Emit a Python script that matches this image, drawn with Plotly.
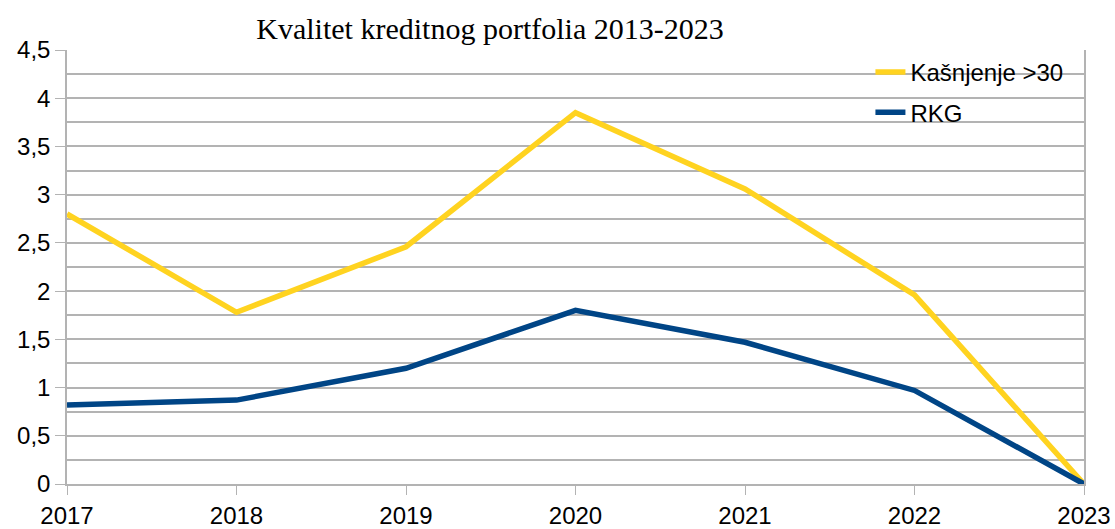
import plotly.graph_objects as go

years = [2017, 2018, 2019, 2020, 2021, 2022, 2023]
kasnjenje_30 = [2.80, 1.78, 2.46, 3.85, 3.06, 1.96, 0.0]
rkg = [0.82, 0.87, 1.20, 1.80, 1.47, 0.97, 0.0]

title_text = "Kvalitet kreditnog portfolia 2013-2023"
grid_color = "#b3b3b3"

fig = go.Figure()
fig.add_trace(go.Scatter(x=years, y=kasnjenje_30, mode="lines", name="Kašnjenje >30",
                         legendgroup="a", line=dict(color="#ffd320", width=5.5)))
fig.add_trace(go.Scatter(x=years, y=rkg, mode="lines", name="RKG",
                         legendgroup="b", line=dict(color="#004586", width=5.5)))

fig.update_layout(
    width=1115, height=529,
    margin=dict(l=67, r=31, t=50, b=45),
    paper_bgcolor="white", plot_bgcolor="white",
    separators=", ",
    font=dict(family="Liberation Sans, Arial, sans-serif", size=24, color="black"),
    title=dict(text=title_text, x=490 / 1115, xanchor="center", y=1 - 28 / 529, yanchor="middle",
               font=dict(family="Liberation Serif, Times New Roman, serif", size=30, color="black")),
    legend=dict(x=0.79, y=1.0, xanchor="left", yanchor="top", bgcolor="rgba(0,0,0,0)",
                font=dict(size=24), tracegroupgap=6),
    showlegend=True,
)
fig.update_xaxes(range=[2017, 2023], tickmode="array", tickvals=years,
                 ticktext=[str(y) for y in years], automargin=False,
                 showgrid=False, showline=True, linecolor=grid_color, linewidth=1.5, mirror=False,
                 ticks="outside", ticklen=9, tickcolor=grid_color, zeroline=False)
fig.update_yaxes(range=[0, 4.5], dtick=0.5, showgrid=True, gridcolor=grid_color, gridwidth=1.5,
                 minor=dict(dtick=0.25, showgrid=True, gridcolor=grid_color, gridwidth=1.5),
                 showline=True, linecolor=grid_color, linewidth=1.5, mirror=True, automargin=False,
                 ticks="outside", ticklen=10, tickcolor=grid_color, zeroline=False)

fig.write_html("out.html")
